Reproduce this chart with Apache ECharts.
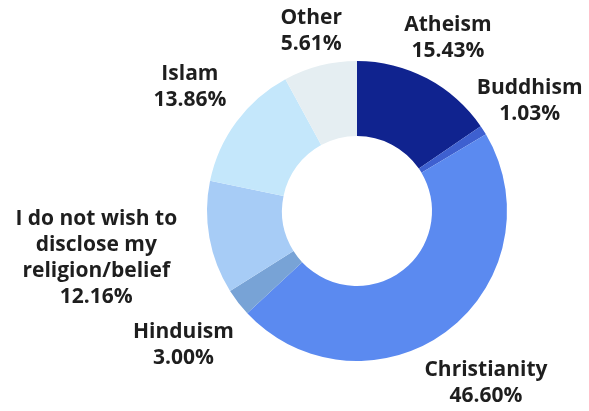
<!DOCTYPE html>
<html>
<head>
<meta charset="utf-8">
<script src="https://cdn.jsdelivr.net/npm/echarts@6/dist/echarts.min.js"></script>
<style>
  html, body { margin: 0; padding: 0; background: #fff; }
  #chart { width: 589px; height: 411px; }
</style>
</head>
<body>
<div id="chart"></div>
<script>
// religion shares, clockwise from 12 o'clock
const categories = [
  'Atheism',
  'Buddhism',
  'Christianity',
  'Hinduism',
  'I do not wish to\ndisclose my\nreligion/belief',
  'Islam',
  'Other'
];
// printed percentages
const shareLabels = ['15.43%', '1.03%', '46.60%', '3.00%', '12.16%', '13.86%', '5.61%'];
// slice sizes as drawn (Other is drawn wider than its printed 5.61%)
const shares = [15.43, 1.03, 46.60, 3.00, 12.16, 13.86, 7.92];
const colors = ['#10238f', '#3e60d0', '#5b8af0', '#78a3d6', '#a7ccf6', '#c4e7fb', '#e5eef2'];

const cx = 357, cy = 211, outerR = 150;
// distance of each label's centre from the pie centre
const labelDist = [195, 205, 215, 219, 265, 208, 186];

const total = shares.reduce((a, b) => a + b, 0);
const midAngles = [];
let acc = 0;
shares.forEach(v => {
  midAngles.push((acc + v / 2) / total * Math.PI * 2);
  acc += v;
});

const chart = echarts.init(document.getElementById('chart'));

chart.setOption({
  animation: false,
  series: [{
    type: 'pie',
    center: [cx, cy],
    radius: [75, outerR],
    startAngle: 90,
    clockwise: true,
    avoidLabelOverlap: false,
    data: categories.map((name, i) => ({
      name: name,
      value: shares[i],
      itemStyle: { color: colors[i] }
    })),
    label: {
      show: true,
      position: 'outside',
      formatter: p => p.name + '\n' + shareLabels[p.dataIndex],
      color: '#1e1e1e',
      fontFamily: 'Open Sans',
      fontWeight: 'bold',
      fontSize: 21,
      lineHeight: 26
    },
    labelLine: { show: false },
    labelLayout: p => {
      const a = midAngles[p.dataIndex];
      const d = labelDist[p.dataIndex];
      return {
        x: cx + Math.sin(a) * d,
        y: cy - Math.cos(a) * d,
        align: 'center',
        verticalAlign: 'middle'
      };
    },
    emphasis: { disabled: true }
  }]
});
</script>
</body>
</html>
